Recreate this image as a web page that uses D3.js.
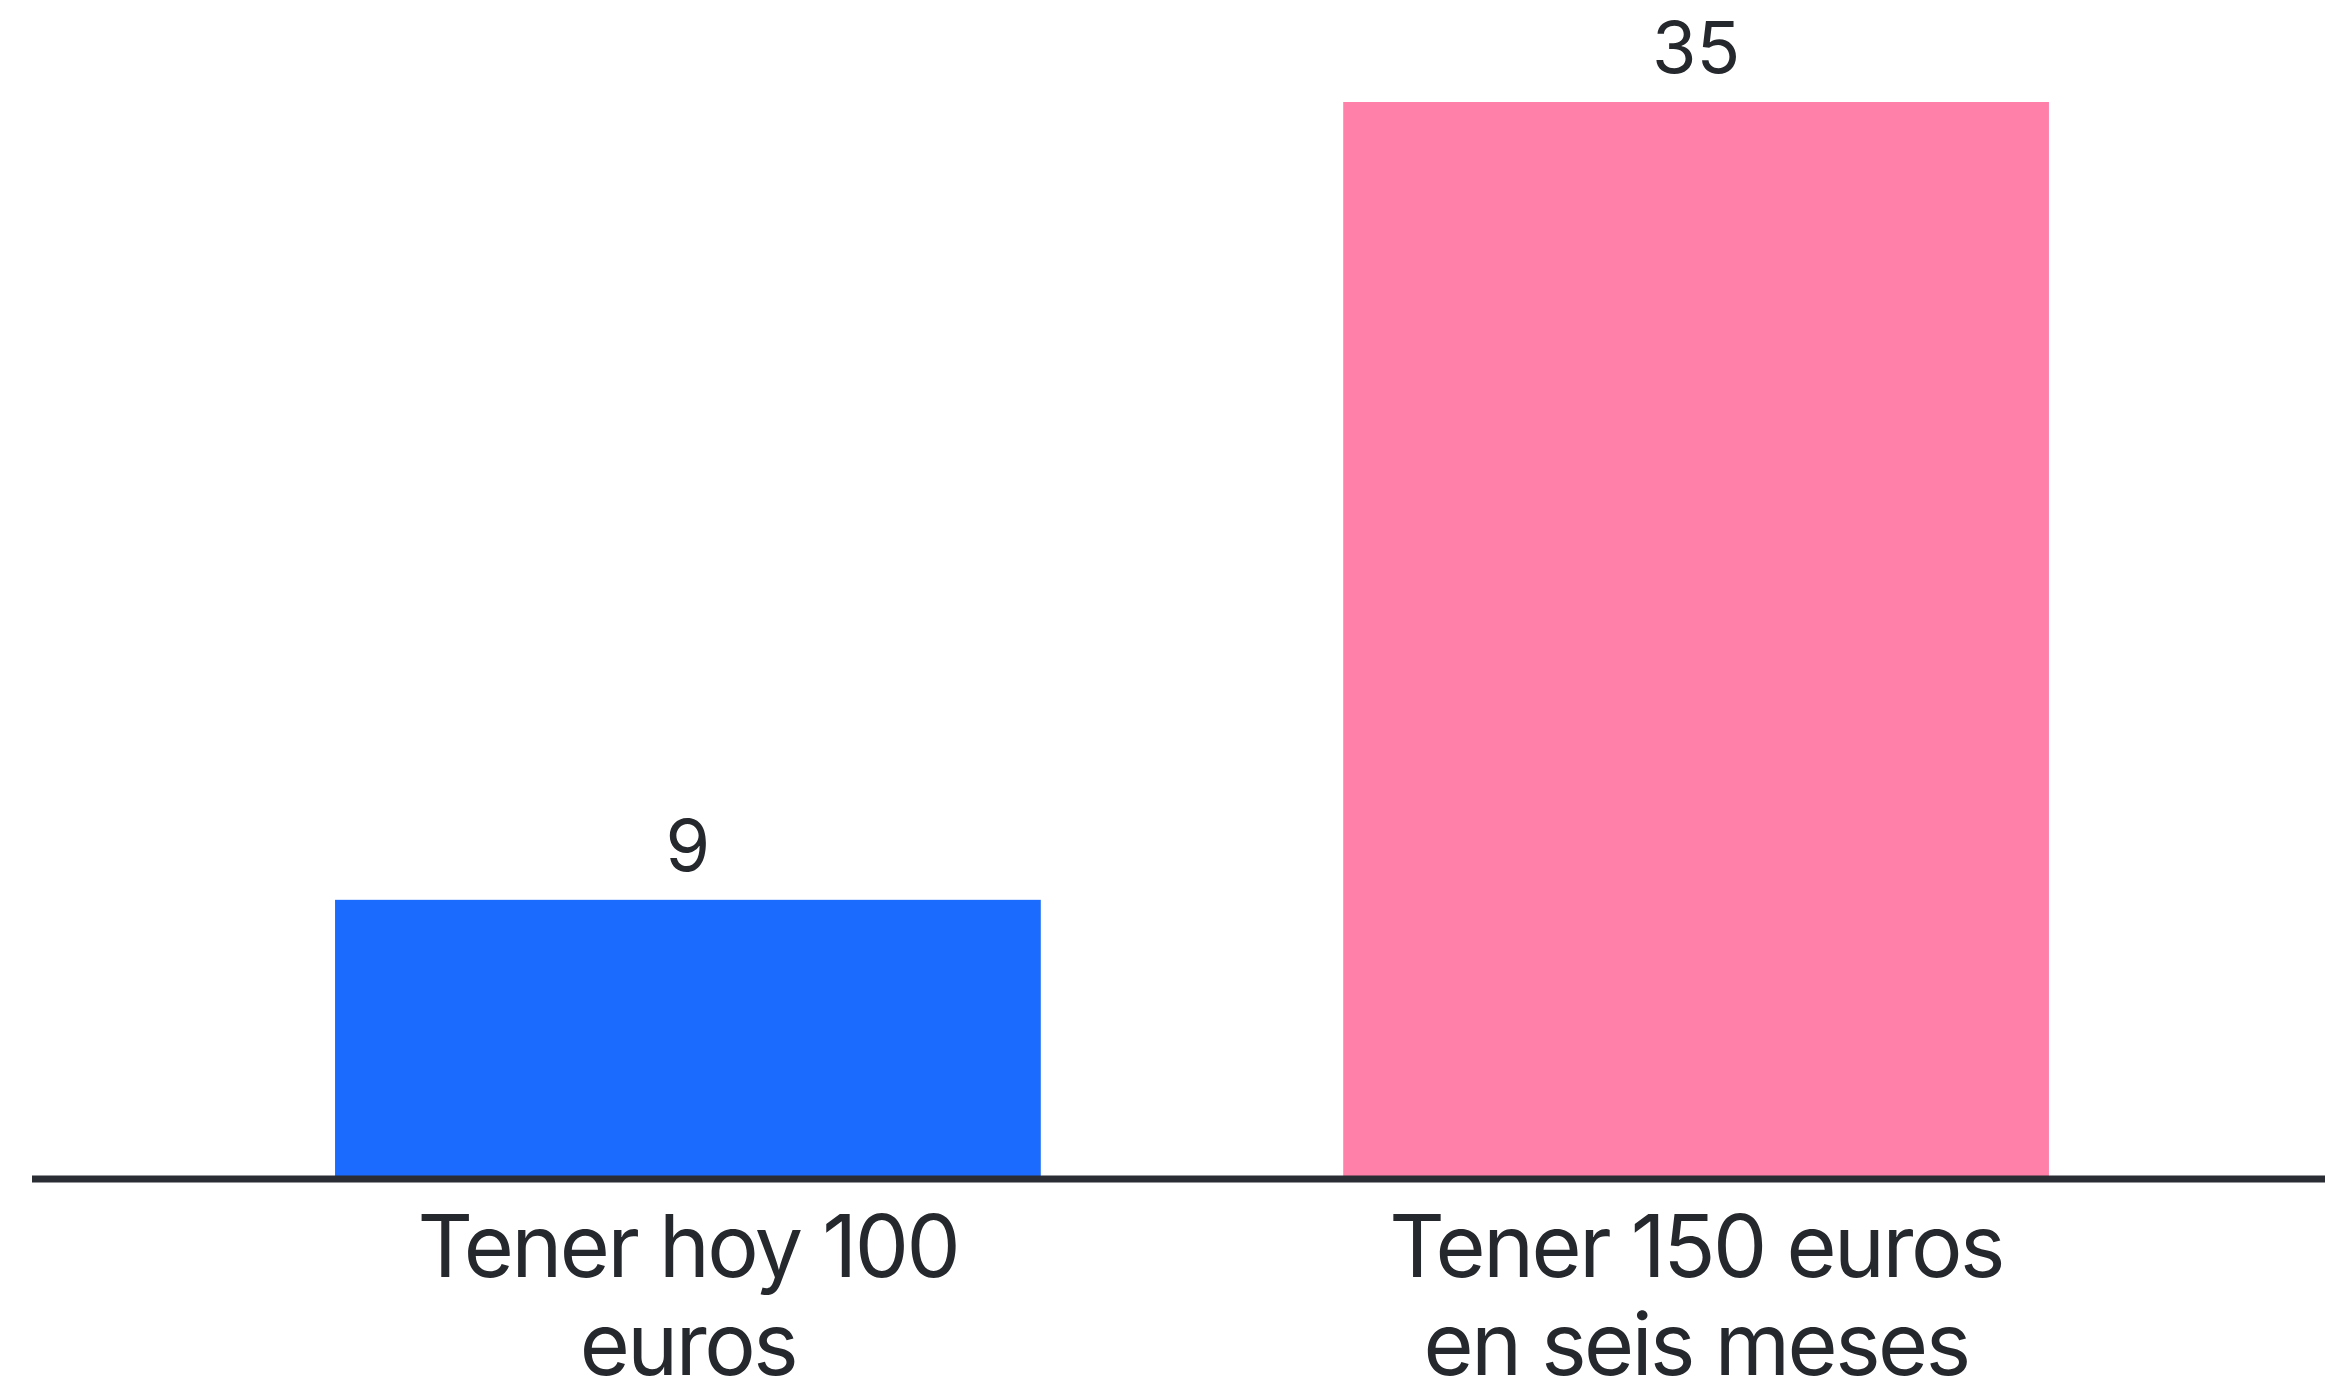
<!DOCTYPE html>
<html>
<head>
<meta charset="utf-8">
<script src="https://cdn.jsdelivr.net/npm/d3@7"></script>
<style>
  html, body { margin: 0; padding: 0; background: #ffffff; }
  svg { display: block; }
  text { font-family: Inter, "Open Sans", sans-serif; fill: #25282d; }
</style>
</head>
<body>
<svg id="chart" width="2325" height="1382"></svg>
<script>
const categories = ["Tener hoy 100 euros", "Tener 150 euros en seis meses"];
const categoryLines = [["Tener hoy 100", "euros"], ["Tener 150 euros", "en seis meses"]];
const values = [9, 35];
const colors = ["#1b6bff", "#ff80a8"];

const W = 2325, H = 1382;
const baseline = 1176;
const svg = d3.select("#chart");

const x = d3.scaleBand()
  .domain(categories)
  .range([32.6, 2351.4])
  .paddingInner(0.3)
  .paddingOuter(0.3);

const y = d3.scaleLinear()
  .domain([0, 35])
  .range([baseline, 102]);

svg.selectAll("rect.bar")
  .data(values)
  .join("rect")
  .attr("class", "bar")
  .attr("x", (d, i) => x(categories[i]))
  .attr("width", x.bandwidth())
  .attr("y", d => y(d))
  .attr("height", d => y(0) - y(d))
  .attr("fill", (d, i) => colors[i]);

svg.selectAll("text.val")
  .data(values)
  .join("text")
  .attr("class", "val")
  .attr("x", (d, i) => x(categories[i]) + x.bandwidth() / 2)
  .attr("y", d => y(d) - 29)
  .attr("text-anchor", "middle")
  .style("font-size", "72px")
  .text(d => d);

// axis line
svg.append("line")
  .attr("x1", 32).attr("x2", W)
  .attr("y1", 1179).attr("y2", 1179)
  .attr("stroke", "#2a2d33")
  .attr("stroke-width", 7);

const labels = svg.selectAll("text.cat")
  .data(categories)
  .join("text")
  .attr("class", "cat")
  .attr("text-anchor", "middle")
  .style("font-size", "86px")
  .style("letter-spacing", "-2.5px");

labels.each(function(c, i) {
  const t = d3.select(this);
  categoryLines[i].forEach((line, j) => {
    t.append("tspan")
      .attr("x", x(c) + x.bandwidth() / 2)
      .attr("y", 1277 + j * 98)
      .text(line);
  });
});
</script>
</body>
</html>
